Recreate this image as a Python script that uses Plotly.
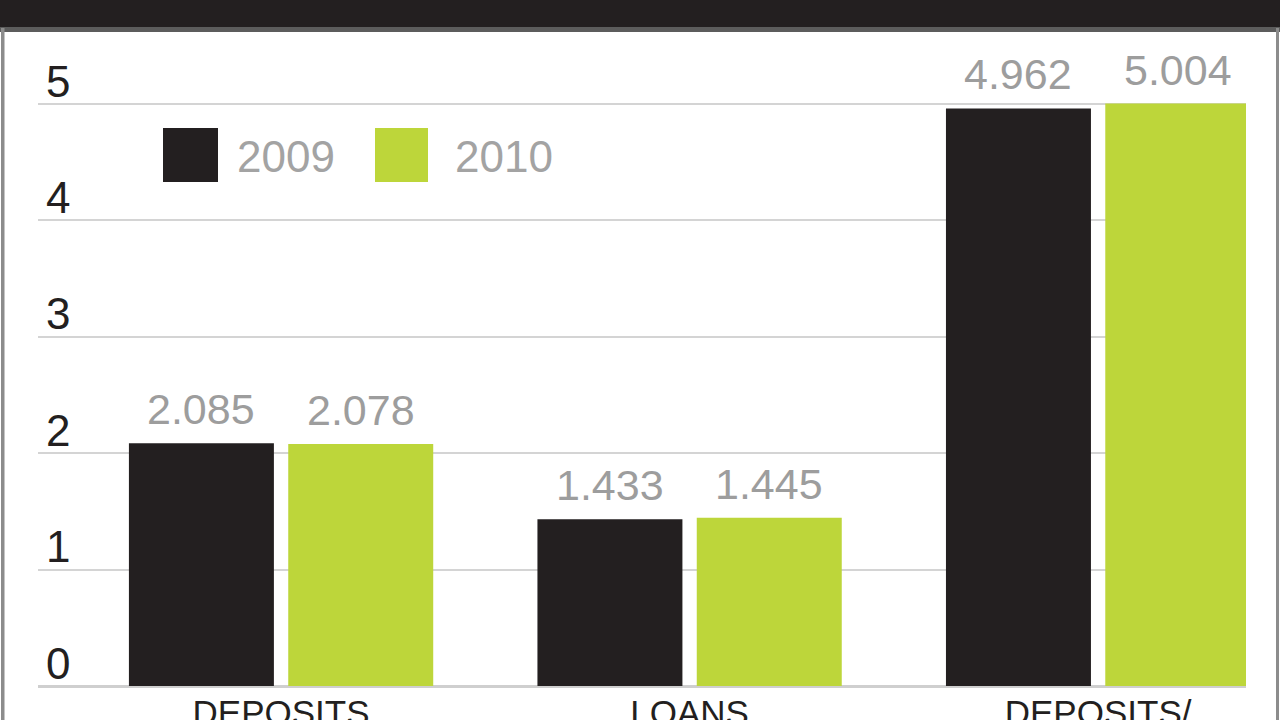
import plotly.graph_objects as go

# ---- data ----
categories = ["DEPOSITS", "LOANS", "DEPOSITS/<br>LOANS"]
series_names = ["2009", "2010"]
values_2009 = [2.085, 1.433, 4.962]
values_2010 = [2.078, 1.445, 5.004]
y_ticks = [0, 1, 2, 3, 4, 5]

series_values = [values_2009, values_2010]
colors = ["#231f20", "#bdd63a"]

# ---- layout constants ----
W, H = 1280, 720
ML, MR, MT, MB = 38, 34, 31, 34
PW, PH = W - ML - MR, H - MT - MB
BARGAP = 0.22
BARGROUPGAP = 0.09
FONT = "Liberation Sans"


def px_x(px):
    return (px - ML) / PW


def px_y(py):
    return (H - MB - py) / PH


fig = go.Figure()
for name, vals, col in zip(series_names, series_values, colors):
    fig.add_trace(go.Bar(
        x=categories, y=vals, name=name,
        marker=dict(color=col, line=dict(width=0)),
        hoverinfo="skip",
    ))

# value labels above bars
n = len(series_names)
slot = (1 - BARGAP) / n
annotations = []
for i, vals in enumerate(series_values):
    off = (i - (n - 1) / 2) * slot
    for j, v in enumerate(vals):
        annotations.append(dict(
            x=j + off, y=v, xref="x", yref="y",
            text=f"{v:.3f}", showarrow=False,
            yanchor="bottom", xanchor="center", yshift=8,
            font=dict(family=FONT, size=43, color="#9d9d9d"),
        ))

# custom legend
shapes = []
leg_sq = [(163, 218), (375, 428)]
leg_tx = [235, 453]
for (x0, x1), tx, name, col in zip(leg_sq, leg_tx, series_names, colors):
    shapes.append(dict(type="rect", xref="paper", yref="paper",
                       x0=px_x(x0), x1=px_x(x1), y0=px_y(182), y1=px_y(128),
                       fillcolor=col, line=dict(width=0), layer="above"))
    annotations.append(dict(
        x=px_x(tx), y=px_y(156), xref="paper", yref="paper",
        text=name, showarrow=False, xanchor="left", yanchor="middle",
        font=dict(family=FONT, size=44, color="#a3a3a3"),
    ))

# header band and frame
shapes.append(dict(type="rect", xref="paper", yref="paper",
                   x0=px_x(0), x1=px_x(W), y0=px_y(28), y1=px_y(0),
                   fillcolor="#231f20", line=dict(width=0), layer="above"))
shapes.append(dict(type="rect", xref="paper", yref="paper",
                   x0=px_x(0), x1=px_x(W), y0=px_y(32), y1=px_y(27),
                   fillcolor="#5c5c5c", line=dict(width=0), layer="above"))
shapes.append(dict(type="rect", xref="paper", yref="paper",
                   x0=px_x(1), x1=px_x(4.5), y0=px_y(H), y1=px_y(28),
                   fillcolor="#8c8c8c", line=dict(width=0), layer="above"))
shapes.append(dict(type="rect", xref="paper", yref="paper",
                   x0=px_x(1276), x1=px_x(1279), y0=px_y(H), y1=px_y(28),
                   fillcolor="#8c8c8c", line=dict(width=0), layer="above"))

unit_px = 116.4
fig.update_layout(
    width=W, height=H,
    margin=dict(l=ML, r=MR, t=MT, b=MB, pad=0),
    paper_bgcolor="white", plot_bgcolor="white",
    barmode="group", bargap=BARGAP, bargroupgap=BARGROUPGAP,
    showlegend=False,
    annotations=annotations, shapes=shapes,
    xaxis=dict(
        range=[-0.595, 2.362], showgrid=False, zeroline=False, showline=False,
        ticks="", tickfont=dict(family=FONT, size=35, color="#231f20"),
        ticklabelstandoff=3,
        automargin=False, fixedrange=True,
    ),
    yaxis=dict(
        range=[0, PH / unit_px], tickvals=y_ticks,
        ticktext=[str(t) for t in y_ticks],
        showgrid=True, gridcolor="#d4d4d4", gridwidth=2,
        zeroline=True, zerolinecolor="#cfcfcf", zerolinewidth=3,
        showline=False, ticks="",
        ticklabelposition="inside top",
        ticklabelstandoff=5, ticklabelshift=8,
        ticklabeloverflow="allow",
        tickfont=dict(family=FONT, size=44, color="#231f20"),
        automargin=False, fixedrange=True,
    ),
)

fig.write_html("out.html", config={"displayModeBar": False})
